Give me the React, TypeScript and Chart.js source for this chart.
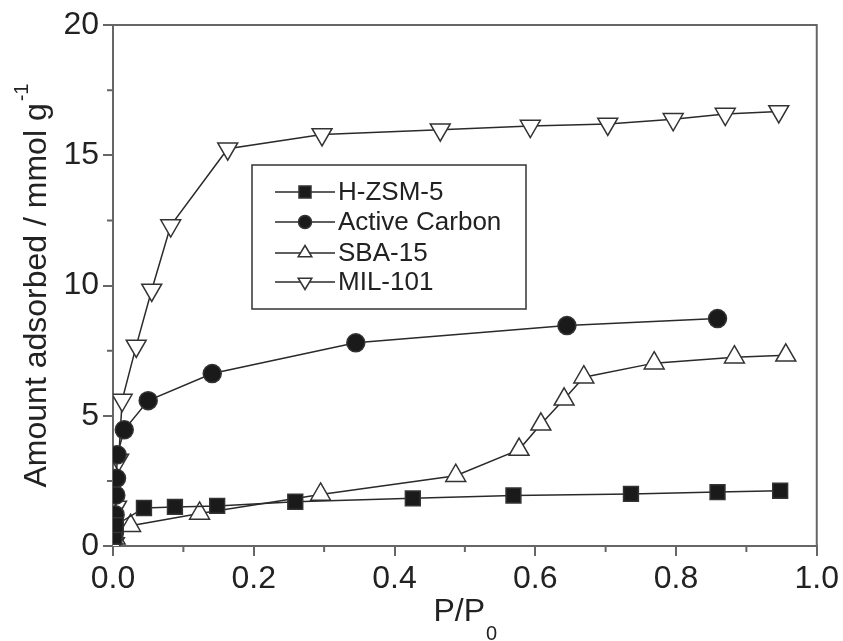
import React, { useEffect, useRef } from 'react';
import { Chart, registerables } from 'chart.js';

Chart.register(...registerables);

// ---- data ----
const hzsmX = [0.002, 0.004, 0.044, 0.088, 0.148, 0.259, 0.426, 0.569, 0.736, 0.859, 0.948];
const hzsmY = [0.35, 0.8, 1.46, 1.5, 1.54, 1.7, 1.83, 1.94, 2.0, 2.07, 2.12];

const carbonX = [0.002, 0.003, 0.004, 0.005, 0.006, 0.016, 0.05, 0.141, 0.345, 0.645, 0.859];
const carbonY = [0.5, 1.2, 1.95, 2.6, 3.5, 4.46, 5.58, 6.62, 7.8, 8.46, 8.73];

const sbaX = [0.003, 0.025, 0.123, 0.295, 0.487, 0.577, 0.608, 0.641, 0.669, 0.769, 0.883, 0.956];
const sbaY = [0.3, 0.78, 1.25, 1.98, 2.7, 3.7, 4.67, 5.63, 6.48, 7.02, 7.25, 7.32];

const milX = [0.002, 0.005, 0.008, 0.013, 0.033, 0.055, 0.082, 0.163, 0.297, 0.465, 0.593, 0.703, 0.796, 0.87, 0.946];
const milY = [0.1, 1.5, 3.3, 5.6, 7.68, 9.83, 12.3, 15.25, 15.8, 15.98, 16.12, 16.2, 16.38, 16.58, 16.68];

const seriesNames = ['H-ZSM-5', 'Active Carbon', 'SBA-15', 'MIL-101'];
const xMinorTicks = [0.1, 0.3, 0.5, 0.7, 0.9];
const yMinorTicks = [2.5, 7.5, 12.5, 17.5];

const FONT = '"Liberation Sans", Arial, Helvetica, sans-serif';
const AXIS = '#666';
const TEXT = '#222';
const LINE = '#2a2a2a';

const pts = (xs: number[], ys: number[]) => xs.map((x, i) => ({ x, y: ys[i] }));

function drawMarker(ctx: CanvasRenderingContext2D, kind: string, x: number, y: number, size: number) {
  ctx.beginPath();
  const filled = kind === 'rect' || kind === 'circle';
  if (kind === 'rect') {
    ctx.rect(x - size / 2, y - size / 2, size, size);
  } else if (kind === 'circle') {
    ctx.arc(x, y, size / 2, 0, Math.PI * 2);
  } else {
    const r = size / 2;
    const dir = kind === 'up' ? 1 : -1;
    ctx.moveTo(x, y - dir * r);
    ctx.lineTo(x + r * 0.866 * 1.05, y + dir * r * 0.5);
    ctx.lineTo(x - r * 0.866 * 1.05, y + dir * r * 0.5);
    ctx.closePath();
  }
  ctx.fillStyle = filled ? '#1a1a1a' : '#fff';
  ctx.fill();
  ctx.lineWidth = 1.5;
  ctx.strokeStyle = '#333';
  ctx.stroke();
}

const decor = {
  id: 'decor',
  afterDraw(chart: any) {
    const { ctx, chartArea: a, scales } = chart;
    const xs = scales.x;
    const ys = scales.y;
    ctx.save();
    // frame top/right
    ctx.strokeStyle = AXIS;
    ctx.lineWidth = 2;
    ctx.beginPath();
    ctx.moveTo(a.left - 1, a.top);
    ctx.lineTo(a.right, a.top);
    ctx.lineTo(a.right, a.bottom + 1);
    ctx.stroke();
    // minor ticks
    ctx.beginPath();
    for (const v of xMinorTicks) {
      const px = xs.getPixelForValue(v);
      ctx.moveTo(px, a.bottom);
      ctx.lineTo(px, a.bottom + 6);
    }
    for (const v of yMinorTicks) {
      const py = ys.getPixelForValue(v);
      ctx.moveTo(a.left, py);
      ctx.lineTo(a.left - 6, py);
    }
    ctx.stroke();

    // x title P/P0
    ctx.fillStyle = TEXT;
    ctx.textBaseline = 'alphabetic';
    ctx.textAlign = 'left';
    ctx.font = `32px ${FONT}`;
    const main = 'P/P';
    const wMain = ctx.measureText(main).width;
    ctx.font = `20px ${FONT}`;
    const wSub = ctx.measureText('0').width;
    const cx = (a.left + a.right) / 2;
    const startX = cx - (wMain + wSub) / 2;
    ctx.font = `32px ${FONT}`;
    ctx.fillText(main, startX, 621);
    ctx.font = `20px ${FONT}`;
    ctx.fillText('0', startX + wMain + 1, 640);

    // y title
    ctx.save();
    const cy = (a.top + a.bottom) / 2;
    ctx.translate(46, cy);
    ctx.rotate(-Math.PI / 2);
    ctx.font = `32px ${FONT}`;
    const yMain = 'Amount adsorbed / mmol g';
    const wy = ctx.measureText(yMain).width;
    ctx.font = `20px ${FONT}`;
    const wsup = ctx.measureText('-1').width;
    const sx = -(wy + wsup + 2) / 2;
    ctx.font = `32px ${FONT}`;
    ctx.fillText(yMain, sx, 0);
    ctx.font = `20px ${FONT}`;
    ctx.fillText('-1', sx + wy + 2, -18);
    ctx.restore();

    // legend
    const lx = 252, ly = 165, lw = 274, lh = 144;
    ctx.strokeStyle = '#333';
    ctx.lineWidth = 1.5;
    ctx.fillStyle = '#fff';
    ctx.fillRect(lx, ly, lw, lh);
    ctx.strokeRect(lx, ly, lw, lh);
    const rows = [192, 222, 253, 282];
    const kinds = ['rect', 'circle', 'up', 'down'];
    const sizes = [12, 13, 15, 15];
    rows.forEach((ry, i) => {
      ctx.strokeStyle = LINE;
      ctx.lineWidth = 1.5;
      ctx.beginPath();
      ctx.moveTo(275, ry);
      ctx.lineTo(335, ry);
      ctx.stroke();
      drawMarker(ctx, kinds[i], 305, ry, sizes[i]);
      ctx.fillStyle = TEXT;
      ctx.font = `26px ${FONT}`;
      ctx.textBaseline = 'middle';
      ctx.textAlign = 'left';
      ctx.fillText(seriesNames[i], 338, ry + 1);
    });
    ctx.restore();
  },
};

export default function App() {
  const ref = useRef<HTMLCanvasElement | null>(null);

  useEffect(() => {
    if (!ref.current) return;
    const common = {
      showLine: true,
      borderColor: LINE,
      borderWidth: 1.5,
      pointBorderColor: '#333',
      pointBorderWidth: 1.5,
    };
    const chart = new Chart(ref.current, {
      type: 'scatter',
      data: {
        datasets: [
          {
            ...common,
            label: seriesNames[0],
            data: pts(hzsmX, hzsmY),
            pointStyle: 'rect',
            pointRadius: 10.5,
            pointBackgroundColor: '#1a1a1a',
          },
          {
            ...common,
            label: seriesNames[1],
            data: pts(carbonX, carbonY),
            pointStyle: 'circle',
            pointRadius: 9,
            pointBackgroundColor: '#1a1a1a',
          },
          {
            ...common,
            label: seriesNames[2],
            data: pts(sbaX, sbaY),
            pointStyle: 'triangle',
            pointRadius: 11.5,
            pointBackgroundColor: '#fff',
          },
          {
            ...common,
            label: seriesNames[3],
            data: pts(milX, milY),
            pointStyle: 'triangle',
            rotation: 180,
            pointRotation: 180,
            pointRadius: 11.5,
            pointBackgroundColor: '#fff',
          },
        ] as any,
      },
      options: {
        responsive: false,
        animation: false,
        events: [],
        layout: { padding: { top: 25, right: 23, left: 0, bottom: 0 } },
        plugins: {
          legend: { display: false },
          tooltip: { enabled: false },
          title: { display: false },
        },
        scales: {
          x: {
            type: 'linear',
            min: 0,
            max: 1,
            ticks: {
              stepSize: 0.2,
              color: TEXT,
              font: { size: 32, family: FONT },
              padding: 4,
              maxRotation: 0,
              callback: (v: any) => Number(v).toFixed(1),
            },
            grid: { drawOnChartArea: false, drawTicks: true, tickLength: 10, color: AXIS, lineWidth: 2 },
            border: { display: true, color: AXIS, width: 2 },
            afterFit: (s: any) => { s.height = 95; },
          },
          y: {
            type: 'linear',
            min: 0,
            max: 20,
            ticks: {
              stepSize: 5,
              color: TEXT,
              font: { size: 32, family: FONT },
              padding: 4,
            },
            grid: { drawOnChartArea: false, drawTicks: true, tickLength: 10, color: AXIS, lineWidth: 2 },
            border: { display: true, color: AXIS, width: 2 },
            afterFit: (s: any) => { s.width = 113; },
          },
        },
      } as any,
      plugins: [decor],
    });
    return () => chart.destroy();
  }, []);

  return (
    <div style={{ position: 'fixed', left: 0, top: 0, width: 843, height: 641, background: '#fff' }}>
      <canvas ref={ref} width={843} height={641} style={{ width: 843, height: 641, display: 'block' }} />
    </div>
  );
}
